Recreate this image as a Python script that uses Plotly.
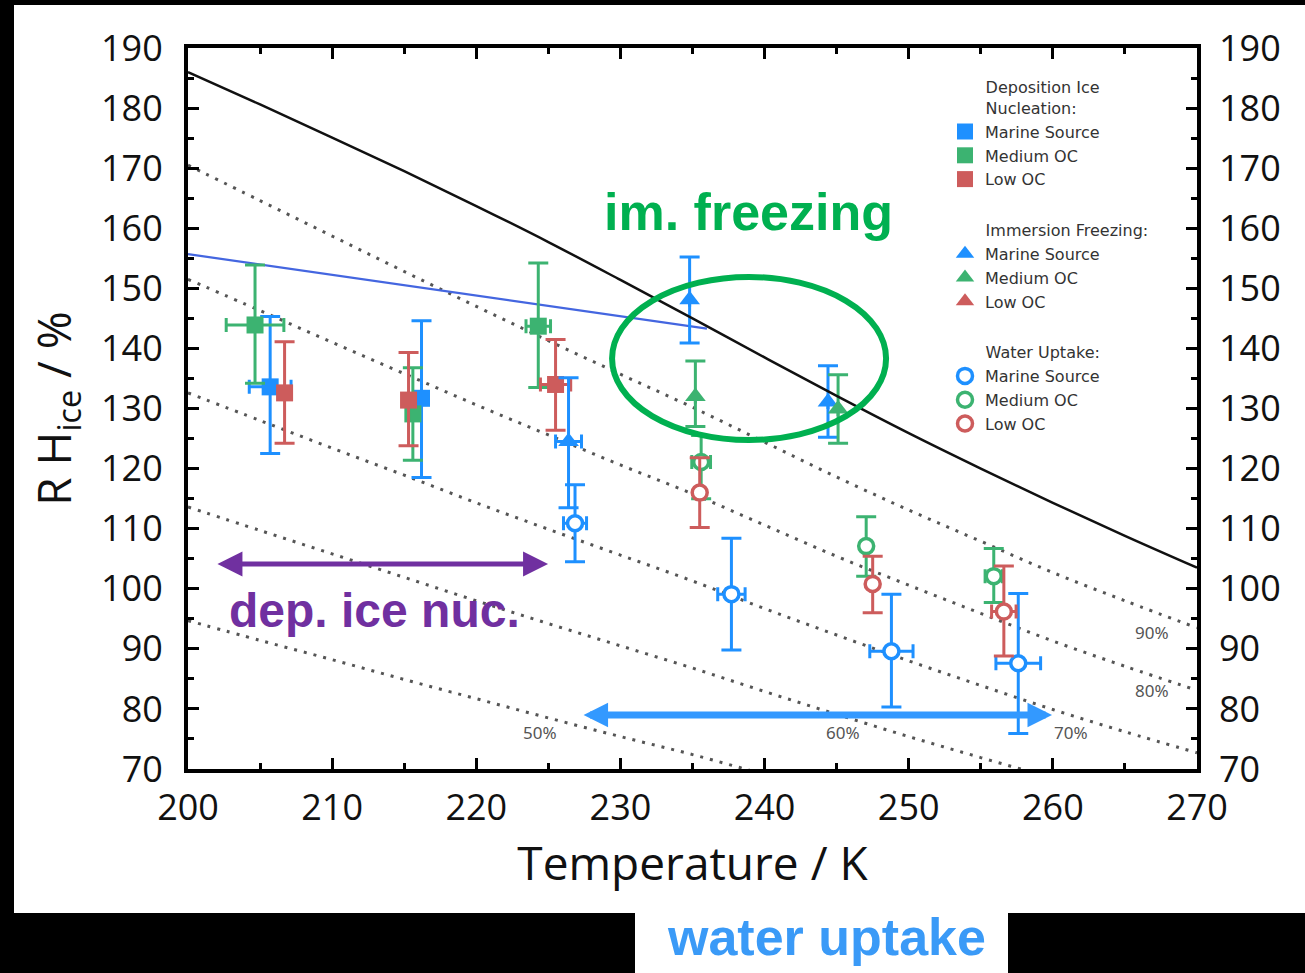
import plotly.graph_objects as go

BLUE = "#1E90FF"
GREEN = "#3CB371"
RED = "#CD5C5C"

# ---- curves ----
T_grid = [200, 205, 210, 215, 220, 225, 230, 235, 240, 245, 250, 255, 260, 265, 270]
rh_water = [186.0, 180.6, 175.1, 169.5, 163.7, 157.7, 151.4, 145.0, 138.5, 132.1, 125.9, 120.0, 114.3, 108.8, 103.5]
rh_90 = [170.5, 164.6, 158.7, 152.8, 147.0, 141.3, 135.7, 130.2, 124.4, 118.6, 113.1, 107.9, 102.7, 98.0, 93.5]
rh_80 = [151.5, 146.3, 141.0, 135.8, 130.6, 125.6, 120.6, 115.8, 110.6, 105.4, 100.6, 95.9, 91.3, 87.1, 83.1]
rh_70 = [132.6, 128.0, 123.4, 118.9, 114.3, 109.9, 105.6, 101.3, 96.7, 92.3, 88.0, 83.9, 79.9, 76.2, 72.7]
rh_60 = [113.6, 109.7, 105.8, 101.9, 98.0, 94.2, 90.5, 86.8, 82.9, 79.1, 75.4, 71.9, 68.5, 65.3, 62.3]
rh_50 = [94.7, 91.4, 88.2, 84.9, 81.7, 78.5, 75.4, 72.4, 69.1, 65.9, 62.9, 60.0, 57.1, 54.5, 52.0]
koop_T = [200, 218, 236]
koop_RH = [155.7, 149.5, 143.3]

# ---- deposition ice nucleation ----
dep_marine_T = [205.7, 216.2]
dep_marine_RH = [133.6, 131.7]
dep_marine_up = [11.7, 12.9]
dep_marine_dn = [11.1, 13.2]
dep_marine_dT = [1.45, 0.0]

dep_medium_T = [204.65, 215.6, 224.3]
dep_medium_RH = [143.9, 129.1, 143.7]
dep_medium_up = [10.0, 7.7, 10.5]
dep_medium_dn = [9.7, 7.7, 10.2]
dep_medium_dT = [2.0, 0.0, 0.85]

dep_low_T = [206.7, 215.3, 225.5]
dep_low_RH = [132.6, 131.4, 134.0]
dep_low_up = [8.5, 7.9, 7.5]
dep_low_dn = [8.4, 7.6, 7.6]
dep_low_dT = [0.0, 0.0, 1.05]

# ---- immersion freezing ----
imm_marine_T = [226.4, 234.8, 244.4]
imm_marine_RH = [124.5, 148.1, 131.1]
imm_marine_up = [10.6, 7.1, 6.0]
imm_marine_dn = [11.0, 7.2, 5.9]
imm_marine_dT = [0.9, 0.0, 0.0]

imm_medium_T = [235.2, 245.1]
imm_medium_RH = [132.0, 129.9]
imm_medium_up = [5.9, 5.7]
imm_medium_dn = [5.0, 5.7]
imm_medium_dT = [0.0, 0.0]

imm_low_T = [None]
imm_low_RH = [None]

# ---- water uptake ----
wu_marine_T = [226.85, 237.7, 248.8, 257.6]
wu_marine_RH = [110.9, 99.1, 89.6, 87.6]
wu_marine_up = [6.4, 9.3, 9.5, 11.6]
wu_marine_dn = [6.4, 9.3, 9.3, 11.7]
wu_marine_dT = [0.8, 0.95, 1.5, 1.55]

wu_medium_T = [235.6, 247.05, 255.9]
wu_medium_RH = [121.1, 107.1, 102.1]
wu_medium_up = [4.4, 4.9, 4.6]
wu_medium_dn = [6.1, 5.0, 4.4]
wu_medium_dT = [0.65, 0.0, 0.6]

wu_low_T = [235.5, 247.5, 256.6]
wu_low_RH = [116.0, 100.8, 96.2]
wu_low_up = [5.8, 4.6, 7.6]
wu_low_dn = [5.8, 4.8, 7.4]
wu_low_dT = [0.0, 0.0, 0.85]

x_ticks = [200, 210, 220, 230, 240, 250, 260, 270]
y_ticks = [70, 80, 90, 100, 110, 120, 130, 140, 150, 160, 170, 180, 190]

fig = go.Figure()

# dotted water saturation fractions
for vals in [rh_90, rh_80, rh_70, rh_60, rh_50]:
    fig.add_trace(go.Scatter(x=T_grid, y=vals, mode="lines", showlegend=False,
                             line=dict(color="#555555", width=3, dash="3px,7px", shape="spline"),
                             hoverinfo="skip"))
# Koop line
fig.add_trace(go.Scatter(x=koop_T, y=koop_RH, mode="lines", showlegend=False,
                         line=dict(color="#4466E0", width=2.2), hoverinfo="skip"))
# water saturation (on y2 so right axis is drawn)
fig.add_trace(go.Scatter(x=T_grid, y=rh_water, mode="lines", showlegend=False, yaxis="y2",
                         line=dict(color="#111111", width=2.5, shape="spline"), hoverinfo="skip"))

IND = "&nbsp;" * 7
LEG_FONT = dict(size=16, color="#333333", family="DejaVu Sans")


def add_series(name, T, RH, up, dn, dT, color, symbol, group, gtitle, size, open_=False):
    kw = {}
    if gtitle:
        kw["legendgrouptitle"] = dict(text=gtitle, font=LEG_FONT)
    if open_:
        marker = dict(symbol="circle", size=size, color="white", line=dict(color=color, width=3.5))
    else:
        marker = dict(symbol=symbol, size=size, color=color, line=dict(width=0))
    fig.add_trace(go.Scatter(
        x=T, y=RH, mode="markers", name=name, legendgroup=group, marker=marker,
        error_y=dict(type="data", symmetric=False, array=up, arrayminus=dn,
                     color=color, thickness=3, width=10) if up else None,
        error_x=dict(type="data", array=dT, color=color, thickness=3, width=7) if dT else None,
        **kw))


add_series("Marine Source", dep_marine_T, dep_marine_RH, dep_marine_up, dep_marine_dn, dep_marine_dT,
           BLUE, "square", "dep", IND + "Deposition Ice<br>" + IND + "Nucleation:", 17)
add_series("Medium OC", dep_medium_T, dep_medium_RH, dep_medium_up, dep_medium_dn, dep_medium_dT,
           GREEN, "square", "dep", None, 17)
add_series("Low OC", dep_low_T, dep_low_RH, dep_low_up, dep_low_dn, dep_low_dT,
           RED, "square", "dep", None, 17)
add_series("Marine Source", imm_marine_T, imm_marine_RH, imm_marine_up, imm_marine_dn, imm_marine_dT,
           BLUE, "triangle-up", "imm", IND + "Immersion Freezing:", 18)
add_series("Medium OC", imm_medium_T, imm_medium_RH, imm_medium_up, imm_medium_dn, imm_medium_dT,
           GREEN, "triangle-up", "imm", None, 18)
add_series("Low OC", imm_low_T, imm_low_RH, [], [], [],
           RED, "triangle-up", "imm", None, 18)
add_series("Marine Source", wu_marine_T, wu_marine_RH, wu_marine_up, wu_marine_dn, wu_marine_dT,
           BLUE, "circle", "wu", IND + "Water Uptake:", 15, open_=True)
add_series("Medium OC", wu_medium_T, wu_medium_RH, wu_medium_up, wu_medium_dn, wu_medium_dT,
           GREEN, "circle", "wu", None, 15, open_=True)
add_series("Low OC", wu_low_T, wu_low_RH, wu_low_up, wu_low_dn, wu_low_dT,
           RED, "circle", "wu", None, 15, open_=True)

W, H = 1305, 973
L, R, TOP, BOT = 188, 1197, 48, 769


def px(x):
    return (x - L) / (R - L)


def py(y):
    return (BOT - y) / (BOT - TOP)


shapes = [
    # green ellipse
    dict(type="circle", xref="x", yref="y", x0=229.42, x1=248.43, y0=124.75, y1=151.9,
         line=dict(color="#00B050", width=6)),
    # black frame pieces (outside the plot)
    dict(type="rect", xref="paper", yref="paper", x0=px(0), x1=px(W), y0=py(5), y1=py(-5),
         fillcolor="black", line=dict(width=0)),
    dict(type="rect", xref="paper", yref="paper", x0=px(-5), x1=px(14), y0=py(-5), y1=py(H + 5),
         fillcolor="black", line=dict(width=0)),
    dict(type="rect", xref="paper", yref="paper", x0=px(-5), x1=px(635), y0=py(913), y1=py(H + 5),
         fillcolor="black", line=dict(width=0)),
    dict(type="rect", xref="paper", yref="paper", x0=px(1008), x1=px(W + 5), y0=py(913), y1=py(H + 5),
         fillcolor="black", line=dict(width=0)),
]

bold = "Liberation Sans"
annotations = [
    dict(text="<b>im. freezing</b>", xref="paper", yref="paper", x=px(748), y=py(212),
         xanchor="center", yanchor="middle",
         showarrow=False, font=dict(family=bold, size=52, color="#00B050")),
    dict(text="<b>dep. ice nuc.</b>", xref="paper", yref="paper", x=px(374), y=py(610),
         xanchor="center", yanchor="middle",
         showarrow=False, font=dict(family=bold, size=48, color="#7030A0")),
    dict(text="<b>water uptake</b>", xref="paper", yref="paper", x=px(826), y=py(937),
         xanchor="center", yanchor="middle",
         showarrow=False, font=dict(family=bold, size=52, color="#3A9AF7")),
    # double arrows
    dict(text="", x=224.98, y=104.1, ax=201.94, ay=104.1, xref="x", yref="y", axref="x", ayref="y",
         showarrow=True, arrowhead=2, startarrowhead=2, arrowside="end+start", arrowwidth=5,
         arrowsize=1, startarrowsize=1, arrowcolor="#7030A0"),
    dict(text="", x=259.94, y=79.0, ax=227.34, ay=79.0, xref="x", yref="y", axref="x", ayref="y",
         showarrow=True, arrowhead=2, startarrowhead=2, arrowside="end+start", arrowwidth=7,
         arrowsize=0.7, startarrowsize=0.7, arrowcolor="#3399FF"),
]
for txt, xx, yy in [("90%", 266.88, 92.8), ("80%", 266.88, 83.1), ("70%", 261.26, 76.0),
                    ("60%", 245.44, 76.0), ("50%", 224.42, 76.0)]:
    annotations.append(dict(text=txt, x=xx, y=yy, xref="x", yref="y", showarrow=False,
                            font=dict(family="Noto Sans", size=17, color="#555555")))

tickfont = dict(family="Open Sans", size=36, color="#111111")
axis_common = dict(showgrid=False, zeroline=False, showline=True, linewidth=4, linecolor="black",
                   mirror="ticks", ticks="inside", ticklen=11, tickwidth=3, tickcolor="black",
                   tickfont=tickfont,
                   minor=dict(ticks="inside", ticklen=6, tickwidth=3, tickcolor="black", showgrid=False))

fig.update_layout(
    width=W, height=H,
    margin=dict(l=L, r=W - R, t=TOP, b=H - BOT, pad=0),
    paper_bgcolor="white", plot_bgcolor="white",
    xaxis=dict(range=[200, 270], tickvals=x_ticks, minor_dtick=5, ticklabelstandoff=4,
               title=dict(text="Temperature / K", font=dict(family="Open Sans", size=46, color="#111111"),
                          standoff=18),
               **axis_common),
    yaxis=dict(range=[70, 190], tickvals=y_ticks, minor_dtick=5, ticklabelstandoff=14,
               title=dict(text="R H<sub>ice</sub> / %", font=dict(family="Open Sans", size=46, color="#111111"),
                          standoff=16),
               **axis_common),
    yaxis2=dict(range=[70, 190], overlaying="y", side="right", matches="y", tickvals=y_ticks,
                showgrid=False, zeroline=False, showline=False, ticks="", tickfont=tickfont,
                ticklabelstandoff=21),
    legend=dict(x=px(945), y=py(70), xanchor="left", yanchor="top", bgcolor="rgba(0,0,0,0)",
                font=LEG_FONT, traceorder="grouped",
                tracegroupgap=27, itemsizing="trace"),
    shapes=shapes,
    annotations=annotations,
    showlegend=True,
)

fig.write_html("out.html", config={"displayModeBar": False},
               post_script="document.body.style.margin='0px';document.body.style.overflow='hidden';")
